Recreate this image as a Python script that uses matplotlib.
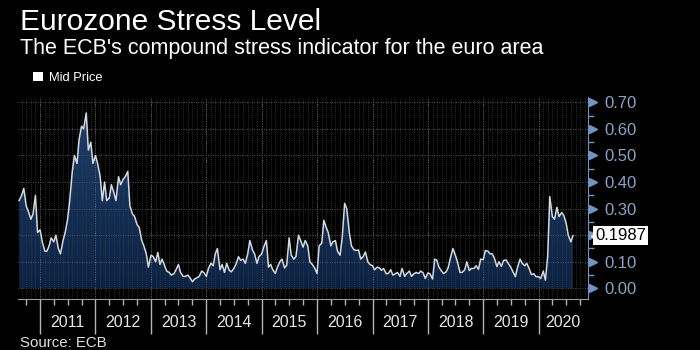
import numpy as np
import pandas as pd
import matplotlib
matplotlib.use("Agg")
import matplotlib.pyplot as plt
import matplotlib.dates as mdates
from matplotlib.colors import LinearSegmentedColormap
from matplotlib.patches import Patch
from matplotlib.ticker import MultipleLocator, NullFormatter

plt.rcParams['font.family'] = ['Liberation Sans', 'DejaVu Sans']

# ECB CISS, semi-monthly readings (1st / 15th), Aug 2010 - Aug 2020
v2010 = [0.33, 0.35, 0.376, 0.31, 0.29, 0.26, 0.28, 0.35, 0.21]
v2011 = [0.22, 0.175, 0.14, 0.14, 0.16, 0.19, 0.175, 0.2, 0.15, 0.13,
         0.18, 0.21, 0.26, 0.33, 0.44, 0.5, 0.47, 0.56, 0.61, 0.6,
         0.66, 0.52, 0.55, 0.47]
v2012 = [0.5, 0.47, 0.42, 0.33, 0.4, 0.33, 0.34, 0.39, 0.36, 0.33,
         0.42, 0.39, 0.41, 0.42, 0.44, 0.31, 0.28, 0.27, 0.24, 0.23,
         0.18, 0.16, 0.13, 0.08]
v2013 = [0.125, 0.12, 0.10, 0.135, 0.09, 0.11, 0.085, 0.065, 0.06, 0.05,
         0.055, 0.07, 0.09, 0.06, 0.045, 0.045, 0.05, 0.04, 0.025, 0.035,
         0.04, 0.045, 0.065, 0.06]
v2014 = [0.045, 0.075, 0.095, 0.085, 0.13, 0.15, 0.07, 0.09, 0.06, 0.094,
         0.068, 0.062, 0.075, 0.09, 0.119, 0.106, 0.11, 0.094, 0.13, 0.18,
         0.145, 0.13, 0.094, 0.12]
v2015 = [0.13, 0.156, 0.18, 0.08, 0.09, 0.07, 0.056, 0.08, 0.1, 0.11,
         0.077, 0.087, 0.19, 0.125, 0.11, 0.12, 0.2, 0.18, 0.155, 0.18,
         0.16, 0.1, 0.09, 0.078]
v2016 = [0.056, 0.16, 0.17, 0.256, 0.23, 0.21, 0.16, 0.175, 0.18, 0.14,
         0.125, 0.19, 0.32, 0.3, 0.21, 0.16, 0.145, 0.143, 0.144, 0.11,
         0.12, 0.137, 0.1, 0.09]
v2017 = [0.085, 0.07, 0.08, 0.077, 0.068, 0.075, 0.055, 0.056, 0.07, 0.05,
         0.055, 0.06, 0.045, 0.075, 0.045, 0.056, 0.065, 0.045, 0.055, 0.06,
         0.056, 0.065, 0.058, 0.037]
v2018 = [0.058, 0.055, 0.035, 0.11, 0.106, 0.08, 0.065, 0.056, 0.062, 0.078,
         0.12, 0.15, 0.125, 0.1, 0.06, 0.06, 0.07, 0.1, 0.067, 0.075,
         0.075, 0.085, 0.072, 0.11]
v2019 = [0.108, 0.142, 0.14, 0.13, 0.13, 0.115, 0.082, 0.1, 0.083, 0.105,
         0.107, 0.094, 0.08, 0.064, 0.044, 0.078, 0.11, 0.095, 0.085, 0.094,
         0.073, 0.052, 0.055, 0.044]
v2020 = [0.044, 0.037, 0.065, 0.031, 0.12, 0.345, 0.27, 0.26, 0.305, 0.27,
         0.285, 0.275, 0.245, 0.2, 0.175, 0.1987]

stress = v2010 + v2011 + v2012 + v2013 + v2014 + v2015 + v2016 + v2017 + v2018 + v2019 + v2020
dates = pd.date_range("2010-08-15", periods=len(stress), freq="SMS")
years = list(range(2011, 2021))
y_ticks = [0.0, 0.1, 0.2, 0.3, 0.4, 0.5, 0.6, 0.7]
# 0.20 label sits under the last-value tag in the original
y_labels = ["0.00", "0.10", "", "0.30", "0.40", "0.50", "0.60", "0.70"]

x0, x1 = pd.Timestamp("2010-08-08"), pd.Timestamp("2020-11-22")
y0, y1 = -0.04, 0.72

fig = plt.figure(figsize=(7, 3.5), dpi=100, facecolor="black")
ax = fig.add_axes([18/700, 1-299/350, (588-18)/700, (299-97)/350])
ax.set_facecolor("black")

# gradient area fill
poly = ax.fill_between(dates, stress, 0, facecolor="none", edgecolor="none")
cmap = LinearSegmentedColormap.from_list("fill", ["#0b2243", "#1b3d6c"])
grad = np.linspace(0, 1, 256).reshape(-1, 1)
im = ax.imshow(grad, extent=[mdates.date2num(x0), mdates.date2num(x1), 0, max(stress)],
               origin="lower", aspect="auto", cmap=cmap, zorder=1)
im.set_clip_path(poly.get_paths()[0], ax.transData)
ax.plot(dates, stress, color="#d3d9e1", lw=1.1, zorder=4)

# grids: monthly dotted, yearly brighter, horizontal at 0.1
months = pd.date_range("2010-09-01", "2020-11-01", freq="MS")
ax.vlines(months, y0, y1, colors="#3c3c3c", linestyles=(0, (1, 1.5)), lw=0.6, zorder=2)
ax.set_axisbelow("line")
ax.grid(axis="x", which="major", color="#707070", ls=(0, (1, 1.5)), lw=0.7)
ax.grid(axis="y", which="major", color="#555555", ls=(0, (1, 1.5)), lw=0.7)

ax.set_xlim(x0, x1)
ax.set_ylim(y0, y1)

# x axis
ax.xaxis.set_major_locator(mdates.YearLocator())
ax.xaxis.set_minor_locator(mdates.MonthLocator(bymonth=[4, 7, 10]))
ax.xaxis.set_major_formatter(NullFormatter())
ax.tick_params(axis="x", which="major", length=25, width=1, color="#b5b5b5")
ax.tick_params(axis="x", which="minor", length=4, width=1, color="#b5b5b5")
for yr in years:
    a = pd.Timestamp(yr, 1, 1)
    b = min(pd.Timestamp(yr + 1, 1, 1), x1)
    ax.text(a + (b - a) / 2, -0.114, str(yr), transform=ax.get_xaxis_transform(),
            ha="center", va="center", color="#e6e6e6", fontsize=11.5)

# right y axis
ax.yaxis.tick_right()
ax.set_yticks(y_ticks, y_labels)
ax.yaxis.set_minor_locator(MultipleLocator(0.05))
ax.tick_params(axis="y", which="major", length=0, pad=12, labelsize=12, labelcolor="#8ba3c7")
ax.tick_params(axis="y", which="minor", length=4, width=1, color="#7393c4")
ax.plot([1.009] * len(y_ticks), y_ticks, ls="none", marker=">", ms=6, color="#7393c4",
        transform=ax.get_yaxis_transform(), clip_on=False)

for s in ["left", "top"]:
    ax.spines[s].set_visible(False)
ax.spines["bottom"].set_color("#9a9a9a")
ax.spines["right"].set_color("#7393c4")

# last value tag
last = stress[-1]
ax.plot([1.019], [last], ls="none", marker="<", ms=12, color="white",
        transform=ax.get_yaxis_transform(), clip_on=False, zorder=5)
ax.text(1.0123, last, f"{last:.4f}", transform=ax.get_yaxis_transform(), ha="left",
        va="center", fontsize=12, color="black", zorder=6,
        bbox=dict(boxstyle="square,pad=0.12", fc="white", ec="none"))

# titles, legend, source
fig.text(20/700, 1-30/350, "Eurozone Stress Level", fontsize=21.5, color="white", va="baseline")
fig.text(20/700, 1-54/350, "The ECB's compound stress indicator for the euro area",
         fontsize=15.5, color="white", va="baseline")
fig.legend(handles=[Patch(fc="white", ec="none", label="Mid Price")], loc="center left",
           bbox_to_anchor=(33/700, 1-78/350), frameon=False, handlelength=0.75,
           handleheight=0.75, handletextpad=0.5, fontsize=9.3, labelcolor="white",
           borderaxespad=0, borderpad=0)
fig.text(20/700, 1-347/350, "Source: ECB", fontsize=10.8, color="#e0e0e0", va="baseline")

fig.savefig("out.png", dpi=100, facecolor="black")
